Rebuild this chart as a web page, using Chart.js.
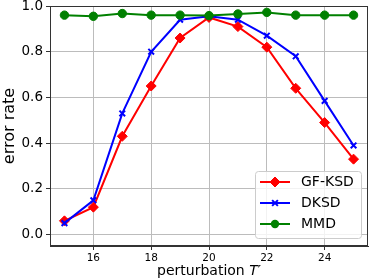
<!DOCTYPE html>
<html>
<head>
<meta charset="utf-8">
<script src="https://cdn.jsdelivr.net/npm/chart.js@4.4.0/dist/chart.umd.min.js"></script>
<style>
  html, body { margin: 0; padding: 0; background: #fff; }
  #wrap { width: 374px; height: 280px; }
</style>
</head>
<body>
<div id="wrap"><canvas id="errChart" width="374" height="280"></canvas></div>
<script>
// values
const perturbation = [15, 16, 17, 18, 19, 20, 21, 22, 23, 24, 25];
const gfKsd = [0.06, 0.12, 0.43, 0.65, 0.86, 0.95, 0.91, 0.82, 0.64, 0.49, 0.33];
const dKsd = [0.05, 0.15, 0.53, 0.80, 0.94, 0.955, 0.94, 0.87, 0.78, 0.585, 0.39];
const mmd = [0.96, 0.955, 0.967, 0.96, 0.96, 0.958, 0.965, 0.972, 0.96, 0.96, 0.96];
const xTicks = [16, 18, 20, 22, 24];
const yTicks = [0.0, 0.2, 0.4, 0.6, 0.8, 1.0];

const FONT = 'DejaVu Sans';
const GRID = '#bcbcbc';

const toPoints = (ys) => perturbation.map((x, i) => ({ x: x, y: ys[i] }));

const series = [
  { label: 'GF-KSD', data: gfKsd, color: '#ff0000', style: 'rectRot', radius: 5, order: 2 },
  { label: 'DKSD', data: dKsd, color: '#0000ff', style: 'crossRot', radius: 4, order: 1 },
  { label: 'MMD', data: mmd, color: '#008000', style: 'circle', radius: 4.2, order: 0 }
];

// draw a marker like the ones on the lines, for the legend
const drawMarker = (ctx, s, x, y) => {
  ctx.save();
  ctx.fillStyle = s.color;
  ctx.strokeStyle = s.color;
  ctx.lineWidth = s.style === 'crossRot' ? 2 : 1;
  ctx.beginPath();
  if (s.style === 'rectRot') {
    const r = s.radius;
    ctx.moveTo(x, y - r); ctx.lineTo(x + r, y); ctx.lineTo(x, y + r); ctx.lineTo(x - r, y);
    ctx.closePath(); ctx.fill(); ctx.stroke();
  } else if (s.style === 'crossRot') {
    const r = s.radius * 0.72;
    ctx.moveTo(x - r, y - r); ctx.lineTo(x + r, y + r);
    ctx.moveTo(x + r, y - r); ctx.lineTo(x - r, y + r);
    ctx.stroke();
  } else {
    ctx.arc(x, y, s.radius, 0, Math.PI * 2);
    ctx.fill();
  }
  ctx.restore();
};

const framePlugin = {
  id: 'frame',
  afterDraw(chart) {
    const { ctx, chartArea: a } = chart;
    ctx.save();
    ctx.strokeStyle = '#333';
    ctx.lineWidth = 1;
    ctx.strokeRect(a.left + 0.5, a.top + 0.5, a.right - a.left - 1, a.bottom - a.top - 1);

    // legend box, lower right inside the plot
    const bw = 106, bh = 67;
    const bx = a.right - 7 - bw, by = a.bottom - 8 - bh;
    ctx.fillStyle = 'rgba(255,255,255,0.8)';
    ctx.strokeStyle = '#cccccc';
    ctx.beginPath();
    ctx.roundRect(bx + 0.5, by + 0.5, bw, bh, 3);
    ctx.fill();
    ctx.stroke();
    ctx.font = '14px "' + FONT + '"';
    ctx.textBaseline = 'middle';
    series.forEach((s, i) => {
      const ry = by + 11 + i * 21;
      ctx.strokeStyle = s.color;
      ctx.lineWidth = 2;
      ctx.beginPath();
      ctx.moveTo(bx + 5, ry); ctx.lineTo(bx + 35, ry);
      ctx.stroke();
      drawMarker(ctx, s, bx + 20, ry);
      ctx.fillStyle = '#000';
      ctx.fillText(s.label, bx + 46, ry);
    });

    // x axis title with italic T'
    ctx.textBaseline = 'alphabetic';
    const plain = 'perturbation ';
    ctx.font = '14px "' + FONT + '"';
    const w1 = ctx.measureText(plain).width;
    ctx.font = 'italic 14px "' + FONT + '"';
    const w2 = ctx.measureText('T′').width;
    const cx = (a.left + a.right) / 2;
    let tx = cx - (w1 + w2) / 2;
    ctx.fillStyle = '#000';
    ctx.font = '14px "' + FONT + '"';
    ctx.fillText(plain, tx, 275);
    ctx.font = 'italic 14px "' + FONT + '"';
    ctx.fillText('T′', tx + w1, 275);
    ctx.restore();
  }
};

const canvas = document.getElementById('errChart');
new Chart(canvas, {
  type: 'line',
  data: {
    datasets: series.map(s => ({
      label: s.label,
      data: toPoints(s.data),
      borderColor: s.color,
      backgroundColor: s.color,
      pointBackgroundColor: s.color,
      pointBorderColor: s.color,
      pointStyle: s.style,
      pointRadius: s.radius,
      pointBorderWidth: s.style === 'crossRot' ? 2 : 1,
      borderWidth: 2,
      tension: 0,
      fill: false,
      order: s.order
    }))
  },
  options: {
    responsive: false,
    animation: false,
    layout: { padding: { left: 0, top: 5, right: 2, bottom: 0 } },
    plugins: {
      legend: { display: false },
      tooltip: { enabled: false }
    },
    scales: {
      x: {
        type: 'linear',
        min: 14.5,
        max: 25.5,
        afterBuildTicks: (scale) => { scale.ticks = xTicks.map(v => ({ value: v })); },
        afterFit: (scale) => { scale.height = 34; scale.paddingLeft = 0; scale.paddingRight = 0; },
        ticks: {
          font: { family: FONT, size: 10.5 },
          color: '#000',
          padding: 2,
          maxRotation: 0,
          callback: (v) => String(v)
        },
        grid: { color: GRID, lineWidth: 1, tickLength: 4, tickColor: '#333' },
        border: { color: '#333' }
      },
      y: {
        min: -0.05,
        max: 1.0,
        afterBuildTicks: (scale) => { scale.ticks = yTicks.map(v => ({ value: v })); },
        afterFit: (scale) => { scale.width = 50; scale.paddingTop = 0; scale.paddingBottom = 0; },
        ticks: {
          font: { family: FONT, size: 13.5 },
          color: '#000',
          padding: 3,
          callback: (v) => v.toFixed(1)
        },
        title: {
          display: true,
          text: 'error rate',
          color: '#000',
          font: { family: FONT, size: 16 },
          padding: { top: 0, bottom: 2 }
        },
        grid: { color: GRID, lineWidth: 1, tickLength: 4, tickColor: '#333' },
        border: { color: '#333' }
      }
    }
  },
  plugins: [framePlugin]
});
</script>
</body>
</html>
